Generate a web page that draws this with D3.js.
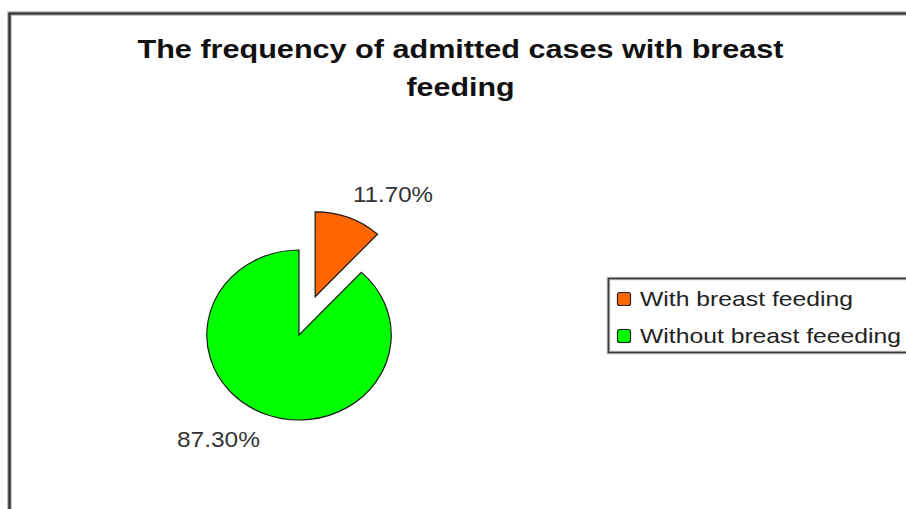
<!DOCTYPE html>
<html>
<head>
<meta charset="utf-8">
<script src="https://cdn.jsdelivr.net/npm/d3@7"></script>
<style>
  html, body { margin: 0; padding: 0; background: #fff; }
  svg { display: block; font-family: "Liberation Sans", Arial, sans-serif; }
</style>
</head>
<body>
<svg id="chart" width="906" height="509"></svg>
<script>
// Chart data
const categories = ["With breast feeding", "Without breast feeeding"];
const values = [11.7, 87.3];
const sliceColors = ["#ff6600", "#00ff00"];
const titleLines = ["The frequency of admitted cases with breast", "feeding"];

const W = 906, H = 509;
const svg = d3.select("#chart");

// Outer chart frame (left and top edges visible), with a soft grey halo
const framePath = `M9.5,${H} L9.5,13.5 L${W},13.5`;
svg.append("path").attr("d", framePath).attr("fill", "none")
  .attr("stroke", "#b0b0b0").attr("stroke-width", 4.5);
svg.append("path").attr("d", framePath).attr("fill", "none")
  .attr("stroke", "#2e2e2e").attr("stroke-width", 2.2);

// Title, two centred lines
const titleSpec = [
  { y: 58, len: 646 },
  { y: 96, len: 108 }
];
svg.append("g").selectAll("text").data(titleLines).join("text")
  .attr("x", 460.5)
  .attr("y", (d, i) => titleSpec[i].y)
  .attr("text-anchor", "middle")
  .attr("font-size", 26)
  .attr("font-weight", "bold")
  .attr("fill", "#111")
  .attr("textLength", (d, i) => titleSpec[i].len)
  .attr("lengthAdjust", "spacingAndGlyphs")
  .text(d => d);

// Pie layout: first slice starts at 12 o'clock and runs clockwise
const color = d3.scaleOrdinal().domain(categories).range(sliceColors);
const pie = d3.pie().sort(null).value(d => d.value);
const arcs = pie(categories.map((c, i) => ({ name: c, value: values[i] })));

const radius = 85;
const explode = 41;
const arc = d3.arc().innerRadius(0).outerRadius(radius);

const pieG = svg.append("g")
  .attr("transform", "translate(299,335) scale(1.085,1)");

pieG.selectAll("path").data(arcs).join("path")
  .attr("d", arc)
  .attr("transform", (d, i) => {
    if (i !== 0) return null;
    const mid = (d.startAngle + d.endAngle) / 2;
    return `translate(${explode * Math.sin(mid)},${-explode * Math.cos(mid)})`;
  })
  .attr("fill", d => color(d.data.name))
  .attr("stroke", "#1a1a1a")
  .attr("stroke-width", 1.2)
  .attr("vector-effect", "non-scaling-stroke")
  .attr("stroke-linejoin", "miter");

// Percentage labels beside each slice
const fmt = v => d3.format(".2f")(v) + "%";
const labelPos = [
  { x: 393, y: 202, len: 80 },
  { x: 218.5, y: 447, len: 83 }
];
svg.append("g").selectAll("text").data(arcs).join("text")
  .attr("x", (d, i) => labelPos[i].x)
  .attr("y", (d, i) => labelPos[i].y)
  .attr("text-anchor", "middle")
  .attr("font-size", 22)
  .attr("fill", "#333")
  .attr("textLength", (d, i) => labelPos[i].len)
  .attr("lengthAdjust", "spacingAndGlyphs")
  .text(d => fmt(d.data.value));

// Legend
const legend = svg.append("g");
legend.append("rect")
  .attr("x", 608.5).attr("y", 278.5)
  .attr("width", 320).attr("height", 74)
  .attr("fill", "#fff")
  .attr("stroke", "#b8b8b8").attr("stroke-width", 3.5);
legend.append("rect")
  .attr("x", 608.5).attr("y", 278.5)
  .attr("width", 320).attr("height", 74)
  .attr("fill", "none")
  .attr("stroke", "#3a3a3a").attr("stroke-width", 1.5);

const legendRows = [
  { y: 292, base: 306, len: 213 },
  { y: 329, base: 343, len: 261 }
];
const items = legend.selectAll("g.item").data(categories).join("g").attr("class", "item");
items.append("rect")
  .attr("x", 617.5)
  .attr("y", (d, i) => legendRows[i].y + 0.5)
  .attr("width", 13).attr("height", 13)
  .attr("rx", 2)
  .attr("fill", d => color(d))
  .attr("stroke", "#222").attr("stroke-width", 1.2);
items.append("text")
  .attr("x", 640)
  .attr("y", (d, i) => legendRows[i].base)
  .attr("font-size", 21)
  .attr("fill", "#222")
  .attr("textLength", (d, i) => legendRows[i].len)
  .attr("lengthAdjust", "spacingAndGlyphs")
  .text(d => d);
</script>
</body>
</html>
